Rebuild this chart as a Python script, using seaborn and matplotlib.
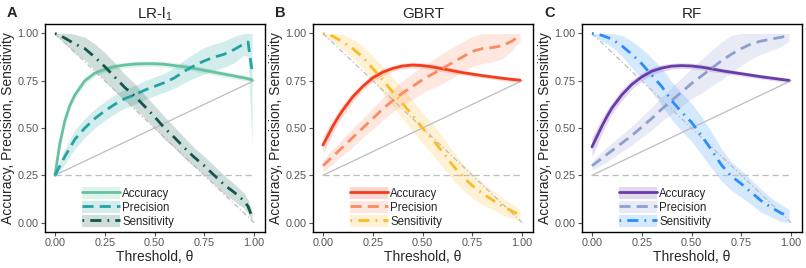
import matplotlib
matplotlib.use('Agg')
import matplotlib.pyplot as plt
import seaborn as sns
import numpy as np
from matplotlib.patches import Patch
from matplotlib.lines import Line2D

sns.set_style('white')
plt.rcParams['font.family'] = ['Liberation Sans', 'DejaVu Sans']
plt.rcParams['mathtext.fontset'] = 'custom'
plt.rcParams['mathtext.rm'] = 'Liberation Sans'

# thresholds
theta = [0, 0.025, 0.05, 0.075, 0.1, 0.15, 0.2, 0.25, 0.3, 0.35, 0.4, 0.45,
         0.5, 0.55, 0.6, 0.65, 0.7, 0.75, 0.8, 0.85, 0.9, 0.95, 0.97, 0.99]

# LR-l1
lr_acc = [0.25, 0.42, 0.54, 0.62, 0.675, 0.75, 0.79, 0.81, 0.825, 0.833, 0.838, 0.84,
          0.84, 0.837, 0.83, 0.824, 0.815, 0.805, 0.795, 0.785, 0.775, 0.765, 0.76, 0.755]
lr_prec = [0.25, 0.30, 0.35, 0.395, 0.44, 0.50, 0.55, 0.59, 0.625, 0.655, 0.675, 0.70,
           0.72, 0.74, 0.765, 0.80, 0.83, 0.855, 0.875, 0.89, 0.915, 0.945, 0.955, 0.80]
lr_sens = [1.0, 0.99, 0.975, 0.96, 0.945, 0.92, 0.875, 0.825, 0.77, 0.715, 0.67, 0.615,
           0.56, 0.5, 0.45, 0.395, 0.345, 0.3, 0.25, 0.2, 0.16, 0.115, 0.085, 0.03]
lr_acc_band = [0.01, 0.02, 0.02, 0.02, 0.02, 0.018, 0.015, 0.015, 0.015, 0.015, 0.015, 0.015,
               0.015, 0.015, 0.015, 0.015, 0.015, 0.015, 0.015, 0.015, 0.015, 0.015, 0.015, 0.015]
lr_prec_band = [0.01, 0.03, 0.04, 0.045, 0.05, 0.05, 0.05, 0.05, 0.05, 0.05, 0.05, 0.05,
                0.05, 0.05, 0.055, 0.06, 0.065, 0.07, 0.07, 0.07, 0.07, 0.06, 0.08, 0.40]
lr_sens_band = [0.01, 0.02, 0.03, 0.04, 0.05, 0.06, 0.07, 0.075, 0.075, 0.07, 0.065, 0.06,
                0.06, 0.06, 0.055, 0.055, 0.05, 0.05, 0.05, 0.05, 0.045, 0.04, 0.035, 0.03]

# GBRT
gb_acc = [0.41, 0.46, 0.51, 0.555, 0.595, 0.665, 0.72, 0.765, 0.795, 0.815, 0.828, 0.833,
          0.83, 0.823, 0.813, 0.803, 0.793, 0.785, 0.777, 0.77, 0.763, 0.757, 0.755, 0.753]
gb_prec = [0.30, 0.325, 0.35, 0.375, 0.40, 0.45, 0.50, 0.55, 0.60, 0.645, 0.685, 0.72,
           0.755, 0.785, 0.815, 0.845, 0.875, 0.905, 0.92, 0.925, 0.935, 0.96, 0.975, 0.985]
gb_sens = [1.0, 0.995, 0.985, 0.97, 0.955, 0.92, 0.875, 0.815, 0.755, 0.69, 0.63, 0.565,
           0.5, 0.44, 0.375, 0.305, 0.245, 0.195, 0.155, 0.12, 0.087, 0.06, 0.05, 0.035]
gb_acc_band = [0.045, 0.04, 0.035, 0.03, 0.03, 0.025, 0.02, 0.02, 0.018, 0.015, 0.015, 0.015,
               0.015, 0.015, 0.015, 0.015, 0.012, 0.012, 0.012, 0.012, 0.012, 0.012, 0.012, 0.012]
gb_prec_band = [0.03, 0.035, 0.04, 0.04, 0.045, 0.05, 0.05, 0.055, 0.06, 0.06, 0.065, 0.07,
                0.07, 0.075, 0.08, 0.08, 0.08, 0.08, 0.08, 0.075, 0.07, 0.05, 0.04, 0.03]
gb_sens_band = [0.01, 0.02, 0.03, 0.035, 0.04, 0.05, 0.06, 0.065, 0.07, 0.075, 0.08, 0.08,
                0.08, 0.08, 0.08, 0.075, 0.07, 0.065, 0.06, 0.05, 0.045, 0.04, 0.035, 0.03]

# RF
rf_acc = [0.40, 0.455, 0.51, 0.56, 0.605, 0.675, 0.73, 0.77, 0.80, 0.817, 0.827, 0.83,
          0.828, 0.822, 0.813, 0.803, 0.795, 0.787, 0.779, 0.771, 0.764, 0.757, 0.754, 0.752]
rf_prec = [0.30, 0.32, 0.34, 0.36, 0.38, 0.42, 0.46, 0.505, 0.55, 0.60, 0.645, 0.69,
           0.735, 0.775, 0.815, 0.855, 0.89, 0.92, 0.945, 0.96, 0.97, 0.98, 0.985, 0.99]
rf_sens = [1.0, 0.997, 0.99, 0.98, 0.97, 0.935, 0.89, 0.84, 0.78, 0.72, 0.645, 0.585,
           0.53, 0.46, 0.385, 0.305, 0.245, 0.205, 0.16, 0.115, 0.08, 0.05, 0.042, 0.035]
rf_acc_band = [0.05, 0.045, 0.04, 0.035, 0.03, 0.03, 0.025, 0.02, 0.02, 0.018, 0.015, 0.015,
               0.015, 0.015, 0.015, 0.012, 0.012, 0.012, 0.012, 0.012, 0.012, 0.012, 0.012, 0.012]
rf_prec_band = [0.02, 0.03, 0.035, 0.04, 0.04, 0.045, 0.05, 0.055, 0.06, 0.065, 0.07, 0.075,
                0.08, 0.09, 0.095, 0.10, 0.10, 0.09, 0.08, 0.07, 0.06, 0.05, 0.04, 0.03]
rf_sens_band = [0.01, 0.02, 0.03, 0.035, 0.04, 0.055, 0.07, 0.08, 0.09, 0.10, 0.10, 0.10,
                0.10, 0.10, 0.095, 0.085, 0.075, 0.07, 0.065, 0.06, 0.05, 0.045, 0.04, 0.035]

panels = [
    ('A', 'LR-l$_1$', (lr_acc, lr_prec, lr_sens), (lr_acc_band, lr_prec_band, lr_sens_band),
     ('#66c2a0', '#23a3a3', '#11574b')),
    ('B', 'GBRT', (gb_acc, gb_prec, gb_sens), (gb_acc_band, gb_prec_band, gb_sens_band),
     ('#f23e1e', '#fc8a63', '#fbbb28')),
    ('C', 'RF', (rf_acc, rf_prec, rf_sens), (rf_acc_band, rf_prec_band, rf_sens_band),
     ('#6a3ca8', '#8c9fcf', '#2b8cfb')),
]
labels = ['Accuracy', 'Precision', 'Sensitivity']
dashes = [None, (4, 2.2), (0.6, 2.2, 4, 2.2)]

fig = plt.figure(figsize=(8.06, 2.68), dpi=100)
lefts = [45, 313, 582]
x = np.array(theta)

for (letter, title, series, bands, colors), left in zip(panels, lefts):
    ax = fig.add_axes([left / 806, 1 - 232 / 268, 220 / 806, 208 / 268])

    # reference lines
    ax.plot([0, 1], [0.25, 0.25], color='#bdbdbd', lw=0.9, dashes=(5, 3))
    ax.plot([0, 1], [0.25, 0.75], color='#bdbdbd', lw=0.9)
    ax.plot([0, 1], [1, 0], color='#bdbdbd', lw=0.9, dashes=(4, 2, 1, 2))

    handles = []
    for y, b, c, d, lab in zip(series, bands, colors, dashes, labels):
        y = np.array(y)
        b = np.array(b)
        ax.fill_between(x, np.clip(y - b, 0, 1), np.clip(y + b, 0, 1), color=c, alpha=0.2, lw=0)
        sns.lineplot(x=x, y=y, ax=ax, color=c, lw=2.0, estimator=None, sort=False)
        if d is not None:
            ax.lines[-1].set_dashes(d)
        ln = Line2D([], [], color=c, lw=2.0)
        if d is not None:
            ln.set_dashes(d)
        handles.append((Patch(facecolor=c, alpha=0.2, lw=0), ln))

    ax.set_xlim(-0.05, 1.055)
    ax.set_ylim(-0.05, 1.05)
    ax.set_xticks([0, 0.25, 0.5, 0.75, 1.0])
    ax.set_yticks([0, 0.25, 0.5, 0.75, 1.0])
    ax.set_xticklabels(['0.00', '0.25', '0.50', '0.75', '1.00'])
    ax.set_yticklabels(['0.00', '0.25', '0.50', '0.75', '1.00'])
    ax.tick_params(axis='both', which='both', length=3, width=0.8, color='#555555',
                   labelcolor='#555555', labelsize=7.8, pad=1.5, bottom=True, left=True)
    for sp in ax.spines.values():
        sp.set_color('black')
        sp.set_linewidth(1.0)
        sp.set_visible(True)

    ax.set_xlabel('Threshold, θ', fontsize=10, labelpad=1)
    ax.set_ylabel('Accuracy, Precision, Sensitivity', fontsize=10, labelpad=2)
    ax.set_title(title, fontsize=11, pad=4)

    leg = ax.legend(handles, labels, loc='lower left', bbox_to_anchor=(0.17, 0.02),
                    frameon=False, fontsize=8.3, handlelength=3.3, handleheight=1.3,
                    labelspacing=0.08, handletextpad=0.15, borderpad=0, borderaxespad=0)

    fig.text((left - 38) / 806, 1 - 17 / 268, letter, fontsize=10.5, fontweight='bold',
             ha='left', va='baseline')

fig.savefig('out.png', dpi=100)
